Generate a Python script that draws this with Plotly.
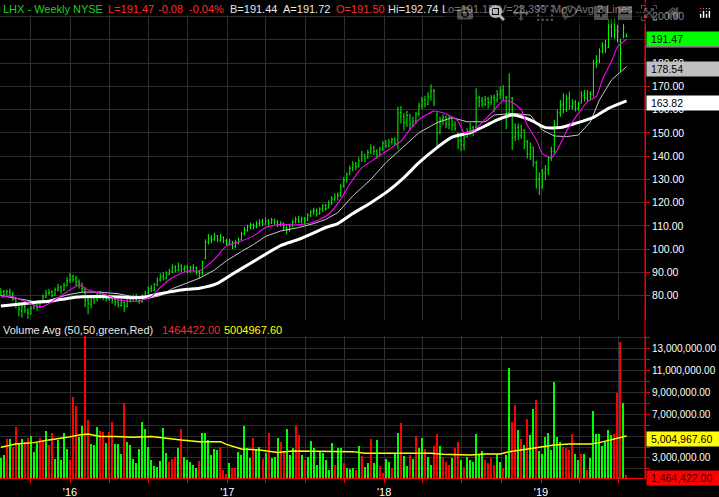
import pandas as pd
import plotly.graph_objects as go

# ---------------- data ----------------
week_start = "2015-07-24"
n_weeks = 209
weeks = pd.date_range(week_start, periods=n_weeks, freq="7D")

open_ = [80.2, 81.8, 80.3, 81.6, 80.5, 78.2, 76.8, 73.5, 75.2, 73.8,
         72.2, 74.8, 76.0, 75.2, 77.2, 79.3, 81.0, 81.8, 80.2, 82.2,
         83.8, 82.3, 84.3, 86.8, 88.2, 87.3, 85.8, 85.3, 82.5, 78.2,
         76.2, 78.8, 78.8, 80.8, 79.5, 80.0, 78.5, 79.8, 78.3, 77.2,
         75.8, 77.0, 75.3, 77.5, 78.8, 79.8, 78.0, 77.3, 79.5, 81.2,
         83.2, 82.3, 84.5, 86.8, 88.3, 87.3, 89.2, 90.2, 92.3, 90.8,
         92.8, 91.3, 92.5, 90.5, 91.8, 92.2, 90.3, 89.8, 96.0, 103.2,
         104.8, 104.2, 105.8, 103.8, 105.0, 103.8, 102.2, 103.5, 101.2, 102.5,
         104.2, 106.8, 108.2, 109.8, 110.5, 109.5, 111.0, 111.8, 110.8, 112.2,
         111.3, 112.8, 111.5, 110.3, 111.2, 109.2, 108.2, 110.2, 111.8, 113.0,
         111.8, 113.2, 112.3, 114.8, 116.0, 116.8, 115.2, 117.5, 119.0, 117.8,
         119.8, 121.8, 122.8, 123.2, 127.0, 129.8, 132.3, 135.0, 136.8, 135.8,
         138.3, 140.8, 139.3, 141.8, 143.8, 142.2, 140.8, 143.2, 145.8, 144.3,
         146.2, 147.5, 145.5, 158.8, 157.2, 154.2, 157.8, 153.3, 155.2, 158.3,
         161.8, 164.3, 162.3, 165.8, 168.3, 158.0, 150.3, 155.8, 156.8, 153.8,
         156.3, 153.3, 150.0, 146.8, 144.8, 148.3, 150.8, 152.3, 152.5, 165.3,
         163.8, 162.3, 164.8, 163.2, 165.3, 164.2, 166.8, 168.3, 165.2, 158.8,
         165.0, 148.3, 152.3, 148.8, 151.3, 146.3, 140.8, 143.8, 137.2, 130.2,
         126.8, 132.8, 134.3, 139.3, 142.3, 153.8, 158.8, 162.3, 160.2, 164.8,
         161.3, 163.2, 160.5, 162.8, 166.3, 164.8, 167.2, 166.8, 180.3, 181.2,
         185.3, 187.8, 186.8, 195.8, 197.2, 194.2, 189.5, 192.0, 191.50]
high = [83.2, 82.5, 82.6, 83.0, 81.5, 78.8, 77.0, 76.5, 76.0, 74.5,
        75.5, 77.2, 76.5, 77.8, 80.5, 82.5, 83.0, 82.3, 83.5, 85.0,
        84.3, 85.5, 88.0, 89.8, 89.0, 88.5, 87.0, 85.5, 83.5, 79.5,
        79.5, 80.0, 81.5, 82.0, 81.0, 80.8, 80.5, 80.0, 79.2, 78.2,
        78.5, 77.5, 79.0, 80.0, 80.5, 80.8, 79.5, 80.5, 82.0, 84.0,
        84.5, 85.5, 87.8, 89.6, 90.0, 90.5, 91.5, 93.5, 93.0, 94.2,
        93.5, 93.0, 93.2, 92.8, 93.5, 92.5, 91.0, 95.0, 104.2, 106.5,
        106.0, 107.0, 106.0, 106.5, 105.5, 104.5, 104.5, 103.5, 104.0, 105.0,
        107.5, 109.5, 110.5, 111.4, 111.0, 112.0, 112.8, 113.0, 113.6, 113.0,
        113.5, 113.0, 112.5, 112.0, 111.5, 110.0, 111.0, 112.5, 114.0, 114.3,
        114.0, 113.8, 115.5, 116.8, 117.8, 117.5, 118.0, 119.3, 119.5, 121.0,
        122.8, 124.0, 124.3, 128.0, 131.0, 133.0, 136.0, 137.9, 137.5, 139.5,
        142.2, 141.0, 142.8, 145.1, 144.5, 143.0, 144.0, 146.5, 147.0, 147.5,
        148.0, 148.0, 161.2, 161.6, 158.5, 159.5, 158.0, 157.0, 159.0, 163.0,
        165.5, 166.0, 167.5, 170.9, 169.0, 159.4, 157.0, 158.0, 157.5, 157.5,
        157.0, 155.0, 150.0, 149.5, 149.0, 152.0, 154.4, 153.0, 169.2, 166.0,
        165.5, 166.0, 165.5, 166.3, 166.5, 168.5, 170.0, 170.6, 166.0, 175.6,
        165.5, 154.1, 154.0, 153.5, 151.5, 147.0, 146.0, 144.1, 138.0, 133.0,
        134.5, 136.2, 140.0, 144.1, 155.6, 160.0, 164.2, 167.0, 166.5, 167.8,
        164.5, 164.2, 163.5, 168.0, 168.5, 168.5, 168.0, 181.5, 183.5, 186.4,
        189.0, 190.0, 199.2, 199.0, 199.5, 196.5, 190.5, 197.0, 192.74]
low = [80.0, 79.8, 80.2, 80.0, 77.8, 74.5, 71.0, 70.5, 72.5, 70.0,
       71.8, 74.0, 73.5, 74.5, 76.8, 79.0, 80.2, 79.2, 80.0, 81.8,
       80.8, 82.0, 84.0, 85.5, 85.8, 84.0, 83.0, 81.5, 75.0, 72.0,
       74.5, 76.5, 77.5, 78.5, 78.0, 77.5, 77.8, 76.5, 75.5, 74.8,
       75.2, 73.0, 75.0, 77.0, 77.8, 77.5, 76.5, 77.0, 79.0, 80.5,
       81.5, 82.0, 84.2, 86.0, 86.5, 87.0, 88.8, 89.8, 90.0, 90.5,
       90.2, 90.0, 89.5, 89.8, 90.5, 89.0, 87.5, 88.8, 95.6, 102.0,
       102.5, 103.5, 103.0, 103.2, 102.5, 101.5, 101.8, 100.0, 100.5, 102.0,
       103.8, 106.0, 107.5, 108.5, 108.5, 109.0, 109.8, 110.0, 110.5, 110.2,
       110.8, 110.5, 109.5, 109.8, 108.0, 106.4, 107.5, 109.5, 111.0, 111.2,
       111.0, 110.5, 112.0, 113.8, 114.8, 114.0, 114.8, 116.0, 116.5, 117.5,
       119.0, 120.8, 121.0, 122.5, 126.5, 128.5, 132.0, 133.6, 134.0, 135.0,
       137.5, 137.5, 139.0, 141.0, 140.5, 138.8, 140.0, 142.2, 143.5, 143.8,
       145.0, 144.5, 143.0, 154.0, 151.0, 152.5, 151.0, 152.5, 154.0, 157.0,
       160.2, 161.0, 162.0, 164.0, 161.5, 143.7, 149.5, 153.5, 152.0, 151.5,
       151.0, 150.8, 143.0, 142.2, 142.5, 148.0, 149.0, 148.7, 152.0, 161.0,
       161.0, 161.5, 160.5, 162.0, 159.0, 163.0, 164.5, 164.2, 151.5, 158.5,
       142.7, 146.5, 147.0, 147.5, 143.0, 139.0, 138.4, 135.5, 126.0, 123.3,
       126.0, 129.8, 132.0, 138.0, 141.0, 152.0, 157.0, 158.4, 159.0, 160.0,
       159.9, 159.2, 159.5, 162.7, 163.5, 163.5, 164.0, 165.6, 178.0, 180.0,
       184.2, 184.5, 186.5, 191.0, 190.5, 189.0, 176.4, 190.7, 191.15]
close = [81.5, 80.5, 81.8, 80.8, 78.5, 76.5, 74.0, 75.5, 73.5, 72.5,
         74.5, 75.8, 75.0, 77.0, 79.5, 80.8, 81.5, 80.0, 82.5, 83.5,
         82.0, 84.5, 86.5, 88.5, 87.0, 86.0, 85.0, 83.0, 78.0, 76.5,
         78.5, 79.0, 80.5, 79.8, 80.2, 78.8, 79.5, 78.0, 77.5, 76.0,
         77.2, 75.5, 77.8, 78.5, 79.5, 78.2, 77.5, 79.8, 81.0, 83.0,
         82.5, 84.8, 86.5, 88.0, 87.5, 89.5, 90.5, 92.0, 91.0, 92.5,
         91.5, 92.2, 90.8, 91.5, 92.0, 90.0, 89.5, 94.5, 103.0, 104.5,
         104.0, 105.5, 104.0, 104.8, 103.5, 102.5, 103.2, 101.5, 102.8, 104.0,
         106.5, 108.0, 109.5, 110.2, 109.8, 110.8, 111.5, 110.8, 112.0, 111.5,
         112.5, 111.8, 110.5, 111.0, 109.5, 108.0, 110.0, 111.5, 112.8, 112.0,
         113.0, 112.5, 114.5, 115.8, 116.5, 115.0, 117.2, 118.8, 117.5, 119.5,
         121.5, 122.5, 123.0, 126.8, 129.5, 132.0, 134.8, 136.5, 135.5, 138.0,
         140.5, 139.0, 141.5, 143.5, 142.0, 140.5, 143.0, 145.5, 144.5, 146.0,
         147.2, 145.5, 158.5, 157.0, 154.5, 157.5, 153.5, 155.0, 158.0, 161.5,
         164.0, 162.5, 165.5, 168.0, 163.0, 150.0, 155.5, 156.5, 154.0, 156.0,
         153.5, 152.0, 146.5, 145.0, 148.0, 150.5, 152.0, 151.0, 165.0, 163.5,
         162.5, 164.5, 163.0, 165.0, 164.0, 166.5, 168.0, 165.0, 158.0, 170.0,
         148.0, 152.0, 149.0, 151.5, 146.0, 141.0, 143.5, 137.5, 130.0, 126.5,
         132.5, 134.5, 139.0, 142.0, 153.5, 158.5, 162.0, 160.0, 164.5, 161.5,
         163.0, 160.8, 162.5, 166.0, 165.0, 167.0, 166.5, 180.0, 181.0, 185.0,
         187.5, 186.5, 195.5, 197.0, 194.0, 193.5, 184.0, 195.5, 191.47]

# weekly volume, millions of shares, and up/down colour of each bar (G / R)
volume_m = [2.97, 3.27, 4.7, 4.73, 3.97, 5.85, 4.27, 4.7, 4.43, 4.85,
            5.0, 3.58, 4.4, 4.8, 4.6, 5.45, 4.18, 5.25, 2.88, 4.65,
            2.8, 5.3, 3.82, 2.82, 8.58, 7.76, 4.93, 5.96, 14.3, 6.5,
            4.3, 4.18, 5.85, 5.5, 5.33, 4.4, 5.4, 6.3, 4.3, 4.3,
            3.39, 7.97, 4.5, 4.2, 2.88, 2.58, 3.8, 6.3, 5.6, 4.0,
            2.82, 2.3, 2.2, 2.75, 5.7, 3.43, 2.66, 2.9, 3.12, 3.94,
            5.64, 3.1, 2.8, 2.66, 2.4, 2.05, 2.7, 5.25, 5.25, 4.64,
            3.27, 3.82, 3.73, 4.03, 1.9, 1.5, 2.5, 2.05, 2.1, 3.58,
            3.27, 5.9, 3.88, 3.03, 4.79, 3.73, 4.03, 2.9, 3.43, 5.25,
            2.96, 3.1, 4.85, 4.42, 3.67, 5.6, 3.27, 3.88, 5.94, 5.1,
            3.27, 2.8, 3.1, 4.55, 3.88, 2.4, 3.67, 3.5, 2.81, 1.9,
            4.4, 2.36, 3.9, 3.9, 2.57, 2.1, 2.0, 2.1, 1.9, 4.1,
            3.2, 2.2, 2.5, 4.73, 2.5, 4.64, 2.3, 1.6, 2.9, 2.66,
            2.1, 3.5, 5.3, 6.2, 3.2, 2.3, 3.3, 2.9, 5.03, 3.9,
            4.85, 3.8, 3.12, 2.36, 4.1, 5.15, 4.1, 3.12, 2.6, 2.4,
            3.0, 3.9, 4.5, 2.8, 2.2, 3.12, 2.8, 2.6, 5.15, 3.3,
            3.6, 2.8, 2.5, 2.96, 2.4, 3.35, 2.66, 2.05, 3.27, 11.16,
            6.31, 7.83, 5.56, 4.71, 4.2, 6.6, 5.08, 7.5, 8.25, 3.66,
            3.4, 4.94, 5.3, 3.72, 9.96, 4.94, 4.49, 4.03, 3.9, 3.72,
            5.15, 3.4, 2.85, 3.35, 3.35, 1.9, 2.96, 7.3, 5.2, 5.15,
            4.08, 4.49, 5.56, 5.08, 5.2, 8.96, 13.6, 8.0, 1.464422]
volume_dir = ("GGRGRRGGRR" "GGGRRGRRGG" "GGGRRRGGRR" "GGGRRGRRGG" "GRGGGGGGGG"
              "GGGGGGRRRG" "RGGGGGRGGG" "GGGRRRGRRG" "GGGGRGGRGR" "GGGRRGGGRR"
              "GRGGGGGGGG" "GRGGRGGGRG" "RGGRGGRRGG" "RGGRGGRGRG" "GRGGRRGRRR"
              "GRRGRGGGGG" "GRRRRGGRGG" "RRGRGRGGRG" "GGGGGGGRRR" "RGGRGRGGGG"
              "GGGGRRRGR")

# moving averages (week index, value)
ma10_week = [0, 3, 5, 9, 12, 14, 17, 22, 26, 29, 32, 35, 39, 42, 46, 50, 53, 57, 62, 66,
             71, 75, 80, 84, 88, 93, 97, 102, 106, 109, 113, 116, 120, 125, 129, 133, 136,
             139, 144, 148, 152, 154, 157, 160, 163, 167, 170, 173, 175, 178, 180, 183,
             185, 188, 192, 195, 198, 200, 203, 205, 208]
ma10_val = [79.3, 79.9, 79.0, 77.0, 75.3, 75.3, 77.4, 81.7, 84.6, 82.5, 81.3, 80.3, 78.2,
            77.7, 77.7, 79.6, 83.5, 87.8, 90.6, 90.6, 95.6, 101.4, 103.5, 105.7, 109.3,
            110.7, 110.4, 111.0, 112.8, 115.0, 121.5, 128.0, 135.0, 139.4, 142.9, 146.5,
            151.5, 155.8, 159.4, 158.3, 155.1, 150.1, 150.8, 154.5, 158.4, 163.9, 163.2,
            159.9, 153.4, 147.0, 141.2, 139.3, 142.7, 150.6, 158.4, 163.5, 165.8, 173.0,
            180.7, 187.1, 190.3]
ma20_week = [0, 5, 11, 16, 22, 27, 33, 39, 44, 48, 53, 57, 62, 66, 71, 75, 80, 84, 88, 93,
             99, 104, 108, 112, 117, 123, 128, 134, 139, 145, 150, 155, 161, 164, 170, 176,
             180, 184, 188, 192, 196, 199, 203, 208]
ma20_val = [80.0, 79.0, 77.5, 78.0, 80.3, 81.5, 81.5, 80.8, 79.5, 78.5, 80.0, 83.0, 85.5,
            87.5, 91.0, 95.0, 99.0, 102.0, 105.5, 107.8, 109.3, 111.0, 112.8, 115.7, 122.9,
            130.0, 137.2, 144.4, 150.1, 154.4, 156.6, 154.8, 154.8, 157.7, 158.4, 157.7,
            151.3, 148.7, 148.4, 149.1, 154.8, 164.2, 172.8, 178.54]
ma50_week = [0, 5, 11, 17, 22, 27, 33, 39, 44, 48, 53, 57, 62, 66, 72, 77, 83, 88, 93, 99,
             104, 108, 112, 117, 123, 128, 134, 139, 145, 150, 156, 161, 165, 170, 176, 181,
             186, 191, 197, 202, 208]
ma50_val = [75.5, 76.2, 77.0, 77.7, 78.8, 79.5, 79.6, 79.4, 79.1, 79.4, 80.8, 81.8, 82.7,
            83.2, 85.3, 89.3, 93.9, 97.8, 101.5, 104.2, 107.0, 109.3, 111.0, 115.3, 120.0,
            124.3, 130.8, 137.2, 143.7, 148.2, 150.1, 153.0, 155.6, 157.7, 155.6, 152.3,
            152.3, 154.1, 156.7, 160.6, 163.82]
vol_avg_week = [0, 5, 11, 16, 22, 26, 29, 33, 38, 44, 50, 53, 60, 66, 73, 75, 80, 86, 92,
                97, 103, 108, 117, 121, 131, 134, 143, 147, 156, 161, 166, 169, 174, 179,
                184, 189, 196, 199, 204, 208]
vol_avg_m = [3.97, 4.27, 4.4, 4.65, 4.88, 5.1, 5.19, 4.96, 4.96, 4.9, 4.96, 4.85, 4.64,
             4.49, 4.49, 4.24, 3.82, 3.73, 3.51, 3.63, 3.63, 3.63, 3.58, 3.43, 3.43, 3.49,
             3.43, 3.33, 3.27, 3.36, 3.36, 3.57, 3.78, 4.03, 4.18, 4.27, 4.27, 4.4, 4.71,
             5.004968]

quarter_ticks = ["2015-10-01", "2016-01-01", "2016-04-01", "2016-07-01", "2016-10-01",
                 "2017-01-01", "2017-04-01", "2017-07-01", "2017-10-01", "2018-01-01",
                 "2018-04-01", "2018-07-01", "2018-10-01", "2019-01-01", "2019-04-01",
                 "2019-07-01"]
quarter_labels = ["", "'16", "", "", "", "'17", "", "", "", "'18", "", "", "", "'19", "", ""]

price_ticks = [80, 90, 100, 110, 120, 130, 140, 150, 160, 170, 180, 190, 200]
price_hidden = [190]          # label covered by the last-price box
vol_ticks_m = [2, 3, 4, 5, 6, 7, 8, 9, 10, 11, 12, 13, 14]
vol_labelled_m = [3, 7, 9, 11, 13]   # 5M is covered by the average box

# ---------------- styling ----------------
GREEN = "#00ff00"
RED = "#ff0000"
GRID = "#2e2e2e"
FONT = "Liberation Sans, Arial, sans-serif"
PLOT_W = 645.0
PLOT_H = 478.0

volume = [v * 1e6 for v in volume_m]
vol_colors = [GREEN if c == "G" else RED for c in volume_dir]

def wk(idx):
    return [weeks[i] for i in idx]

fig = go.Figure()

fig.add_trace(go.Ohlc(
    x=weeks, open=open_, high=high, low=low, close=close,
    increasing=dict(line=dict(color=GREEN, width=1)),
    decreasing=dict(line=dict(color=GREEN, width=1)),
    tickwidth=0.3, xaxis="x2", yaxis="y2", showlegend=False, hoverinfo="skip"))

fig.add_trace(go.Scatter(x=wk(ma20_week), y=ma20_val, mode="lines",
                         line=dict(color="#c8c8c8", width=1), xaxis="x2", yaxis="y2",
                         showlegend=False, hoverinfo="skip"))
fig.add_trace(go.Scatter(x=wk(ma50_week), y=ma50_val, mode="lines",
                         line=dict(color="#ffffff", width=3, shape="spline", smoothing=0.6),
                         xaxis="x2", yaxis="y2", showlegend=False, hoverinfo="skip"))
fig.add_trace(go.Scatter(x=wk(ma10_week), y=ma10_val, mode="lines",
                         line=dict(color="#ff00ff", width=1.1, shape="spline", smoothing=0.5),
                         xaxis="x2", yaxis="y2", showlegend=False, hoverinfo="skip"))

fig.add_trace(go.Bar(x=weeks, y=volume, marker=dict(color=vol_colors, line=dict(width=0)),
                     width=2.6 * 86400000, xaxis="x", yaxis="y", showlegend=False,
                     hoverinfo="skip"))
fig.add_trace(go.Scatter(x=wk(vol_avg_week), y=[v * 1e6 for v in vol_avg_m], mode="lines",
                         line=dict(color="#ffff00", width=1.5), xaxis="x", yaxis="y",
                         showlegend=False, hoverinfo="skip"))

common_x = dict(type="date", range=["2015-07-22", "2019-08-31"],
                tickvals=quarter_ticks, ticktext=quarter_labels,
                showgrid=True, gridcolor=GRID, gridwidth=1, zeroline=False,
                rangeslider=dict(visible=False))

fig.update_layout(
    width=719, height=497,
    margin=dict(l=0, r=74, t=0, b=19, autoexpand=False),
    paper_bgcolor="#000000", plot_bgcolor="#000000",
    font=dict(family=FONT, color="#ffffff", size=11),
    bargap=0,
    xaxis=dict(**common_x, anchor="y", domain=[0, 1], ticks="outside", ticklen=4,
               tickcolor=RED, showline=True, linecolor=RED, linewidth=1,
               tickfont=dict(color="#ffffff", size=11, family=FONT)),
    xaxis2=dict(**common_x, anchor="y2", matches="x", showticklabels=False, ticks=""),
    yaxis=dict(domain=[0, 0.2971], side="right", anchor="x",
               range=[1.176e6, 14.12e6],
               tickvals=[v * 1e6 for v in vol_ticks_m],
               ticktext=[f"{v * 1e6:,.2f}" if v in vol_labelled_m else "" for v in vol_ticks_m],
               ticks="outside", ticklen=4, tickcolor=RED, showline=True, linecolor=RED,
               showgrid=True, gridcolor=GRID, zeroline=False,
               tickfont=dict(color="#ffffff", size=10, family=FONT)),
    yaxis2=dict(domain=[0.3305, 1], side="right", anchor="x2",
                range=[69.5, 207.2], tickvals=price_ticks,
                ticktext=["" if v in price_hidden else f"{v:.2f}" for v in price_ticks],
                ticks="outside", ticklen=4, tickcolor=RED, showline=True, linecolor=RED,
                showgrid=True, gridcolor=GRID, zeroline=False,
                tickfont=dict(color="#ffffff", size=10.5, family=FONT)),
)

shapes = []
# black header strip (covers grid lines behind the header text)
shapes.append(dict(type="rect", xref="paper", yref="paper", x0=0, x1=1,
                   y0=1 - 15.5 / PLOT_H, y1=1, fillcolor="#000000",
                   line=dict(width=0), layer="above"))
# full-height red axis line on the right
shapes.append(dict(type="line", xref="paper", yref="paper", x0=1, x1=1, y0=0, y1=1,
                   line=dict(color=RED, width=1), layer="above"))
# magenta short-average marker peeking out below the last-price box
shapes.append(dict(type="rect", xref="paper", x0=1 + 1 / PLOT_W, x1=719 / PLOT_W,
                   yref="y2", ysizemode="pixel", yanchor=ma10_val[-1], y0=-8.5, y1=-6.5,
                   fillcolor="#ff00ff", line=dict(width=0), layer="above"))
fig.update_layout(shapes=shapes)

annotations = []

# header
header = [(2, "LHX - Weekly", "#1ed21e"), (72, "NYSE", "#1ed21e"),
          (107, "L=191.47", "#ff2a2a"), (157, "-0.08", "#ff2a2a"),
          (188, "-0.04%", "#ff2a2a"), (229, "B=191.44", "#e6e6e6"),
          (282, "A=191.72", "#e6e6e6"), (335, "O=191.50", "#ff2a2a"),
          (387, "Hi=192.74", "#e6e6e6"), (441, "Lo=191.15", "#e6e6e6"),
          (498, "V=23,399", "#e6e6e6"), (551, "Mov Avg 2 Lines ...", "#e6e6e6")]
for px, txt, col in header:
    annotations.append(dict(text=txt, xref="paper", yref="paper", x=px / PLOT_W, y=1,
                            xanchor="left", yanchor="top", yshift=-2, showarrow=False,
                            borderpad=0, font=dict(color=col, size=11, family=FONT)))

vol_hdr = [(2, "Volume Avg (50,50,green,Red)", "#e6e6e6"),
           (161, "1464422.00", "#ff2a2a"), (223, "5004967.60", "#ffff00")]
for px, txt, col in vol_hdr:
    annotations.append(dict(text=txt, xref="paper", yref="paper", x=px / PLOT_W,
                            y=(PLOT_H - 330) / PLOT_H, xanchor="left", yanchor="middle",
                            showarrow=False, borderpad=0,
                            font=dict(color=col, size=11, family=FONT)))

def value_box(val, yref, bg, fg, txt, yshift):
    return dict(text="&nbsp;" + txt, xref="paper", yref=yref, x=1, y=val, xanchor="left",
                yanchor="middle", xshift=1, yshift=yshift, showarrow=False,
                bgcolor=bg, width=71, height=12, align="left", borderpad=1,
                font=dict(color=fg, size=10.5, family=FONT))

annotations.append(value_box(close[-1], "y2", GREEN, "#000000", f"{close[-1]:.2f}", -2))
annotations.append(value_box(ma20_val[-1], "y2", "#c0c0c0", "#000000", f"{ma20_val[-1]:.2f}", -2))
annotations.append(value_box(ma50_val[-1], "y2", "#ffffff", "#000000", f"{ma50_val[-1]:.2f}", -2))
annotations.append(value_box(vol_avg_m[-1] * 1e6, "y", "#ffff00", "#000000", "5,004,967.60", -3))
annotations.append(value_box(volume[-1], "y", "#ff0000", "#300000", f"{volume[-1]:,.2f}", -3))

fig.update_layout(annotations=annotations)

fig.write_html("out.html",
               post_script="document.body.style.margin='0';document.body.style.overflow='hidden';")
